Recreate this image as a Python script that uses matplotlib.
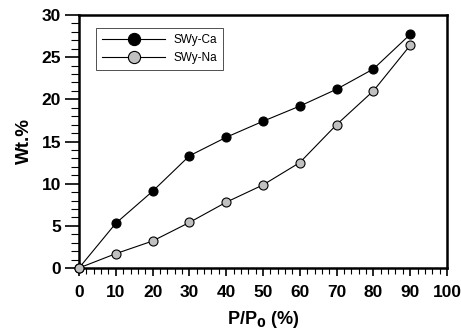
import matplotlib
matplotlib.use("Agg")
import matplotlib.pyplot as plt
from matplotlib.ticker import MultipleLocator

plt.rcParams['font.family'] = ['Liberation Sans', 'DejaVu Sans']
plt.rcParams['mathtext.default'] = 'regular'

# relative pressure (%) and water uptake (wt.%)
p_rel = [0, 10, 20, 30, 40, 50, 60, 70, 80, 90]
swy_ca = [0, 5.3, 9.1, 13.3, 15.5, 17.4, 19.2, 21.2, 23.6, 27.7]
swy_na = [0, 1.7, 3.2, 5.4, 7.8, 9.85, 12.5, 17.0, 21.0, 26.4]

fig = plt.figure(figsize=(4.61, 3.35), dpi=100)
ax = fig.add_axes([79/461, 1-268/335, (447-79)/461, (268-15)/335])

ax.plot(p_rel, swy_ca, '-', color='black', lw=0.8, marker='o', ms=6.5,
        mfc='black', mec='black', mew=0.8, label='SWy-Ca', clip_on=False, zorder=3)
ax.plot(p_rel, swy_na, '-', color='black', lw=0.8, marker='o', ms=6.5,
        mfc='#c0c0c0', mec='black', mew=0.8, label='SWy-Na', clip_on=False, zorder=3)

ax.set_xlim(0, 100)
ax.set_ylim(0, 30)
ax.xaxis.set_major_locator(MultipleLocator(10))
ax.xaxis.set_minor_locator(MultipleLocator(2))
ax.yaxis.set_major_locator(MultipleLocator(5))
ax.yaxis.set_minor_locator(MultipleLocator(1))
ax.tick_params(which='major', direction='out', width=1.2, labelsize=12.5)
ax.tick_params(axis='x', which='major', length=6, pad=6)
ax.tick_params(axis='x', which='minor', length=4, width=0.8)
ax.tick_params(axis='y', which='major', length=10, pad=3)
ax.tick_params(axis='y', which='minor', length=6, width=0.8)
for lab in ax.get_xticklabels() + ax.get_yticklabels():
    lab.set_fontweight('bold')
for s in ax.spines.values():
    s.set_linewidth(1.8)

ax.set_xlabel(r'P/P$_\mathbf{0}$ (%)', fontsize=13, fontweight='bold', labelpad=7)
ax.set_ylabel('Wt.%', fontsize=13.5, fontweight='bold', labelpad=6)

leg = ax.legend(loc='upper left', bbox_to_anchor=(0.03, 0.972), fontsize=8.5,
                frameon=True, fancybox=False, edgecolor='black', handlelength=5.3,
                borderpad=0.55, labelspacing=0.45, handletextpad=0.7, markerscale=1.35)
leg.get_frame().set_linewidth(0.6)

fig.savefig('out.png', dpi=100)
